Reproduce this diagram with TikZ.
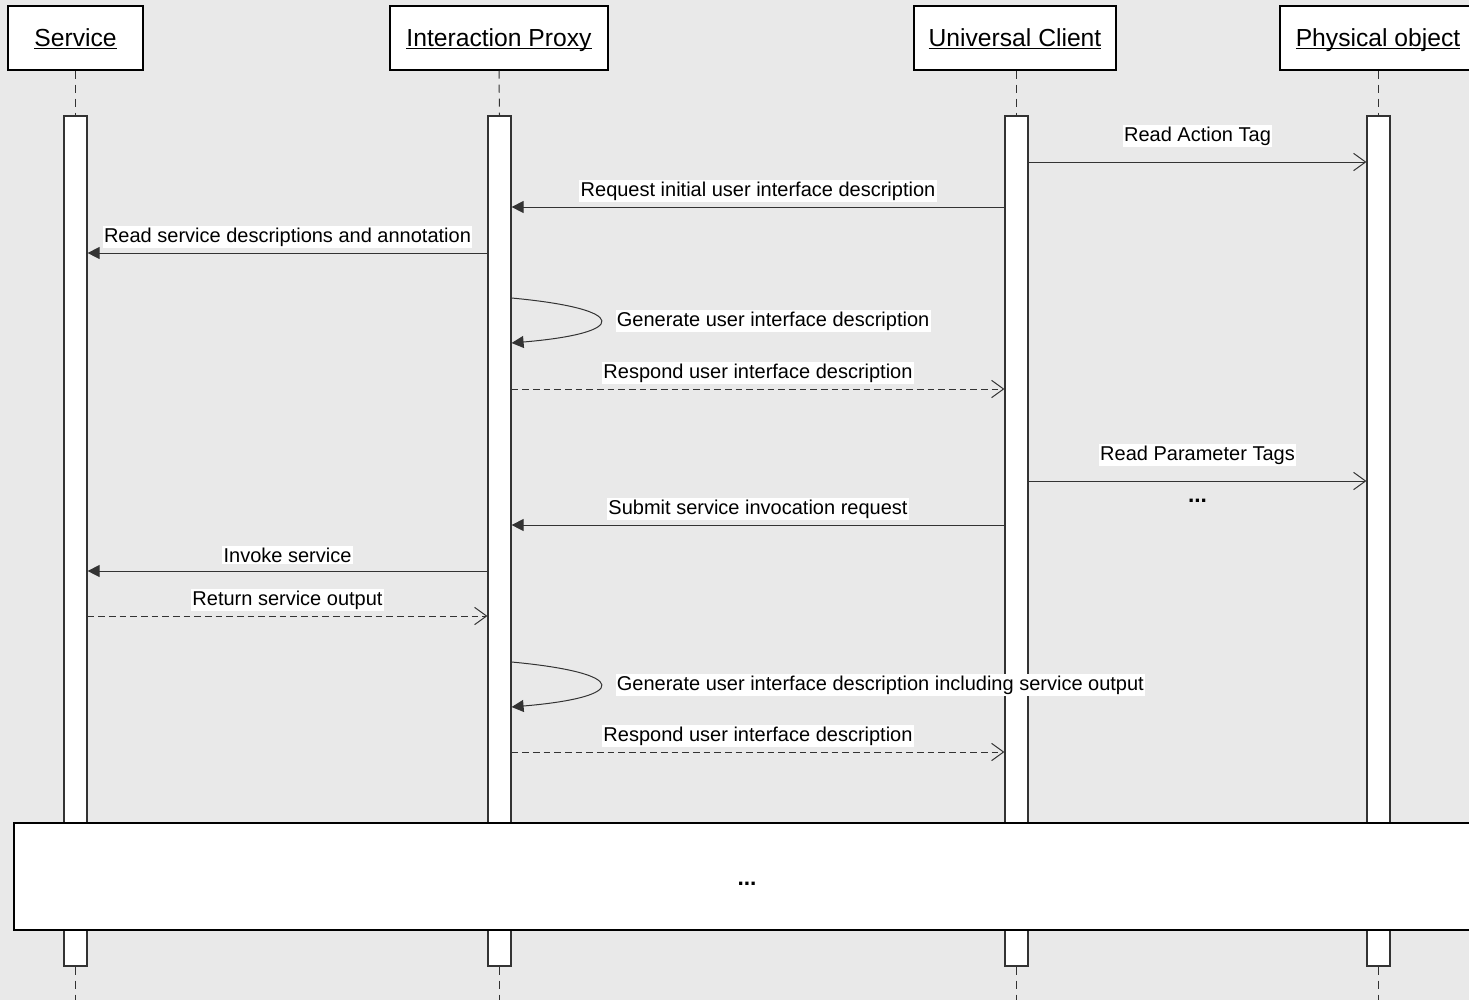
\documentclass[tikz,border=0pt]{standalone}
\usepackage{fontspec}
\setmainfont{Liberation Sans}
\usetikzlibrary{arrows.meta,calc,positioning}

\definecolor{canvas}{HTML}{E9E9E9}
\definecolor{ink}{HTML}{333333}

\newcommand{\headname}[1]{\underline{\smash{#1}}}

\tikzset{
  head/.style={rectangle,draw=black,fill=white,line width=0.9pt,minimum height=48pt,inner sep=0pt,text height=14pt,text depth=2pt,font=\fontsize{18.5}{20}\selectfont},
  bar/.style={rectangle,draw=ink,fill=white,line width=0.9pt,minimum width=17.25pt,minimum height=637.5pt,inner sep=0pt},
  life/.style={draw=ink,line width=0.75pt,dash pattern=on 6pt off 4.5pt},
  call/.style={draw=ink,line width=0.75pt,-{Triangle[length=9pt,width=9pt]}},
  send/.style={draw=ink,line width=0.75pt,-{Straight Barb[length=9pt,width=13pt]}},
  reply/.style={send,dash pattern=on 5pt off 3pt},
  lbl/.style={fill=white,inner xsep=1pt,inner ysep=1.5pt,font=\fontsize{15}{17}\selectfont},
  dots/.style={font=\fontsize{17}{19}\selectfont\bfseries},
}

\begin{document}
\begin{tikzpicture}[x=0.75pt,y=-0.75pt]

    \fill[canvas] (0,0) rectangle (1469,1000);
    \useasboundingbox (0,0) rectangle (1469,1000);

    \coordinate (bottom) at (0,1000);

    % lifelines
    \node [bar] (svcbar) at (75.5,541) {};
    \node [bar] (ipbar)  at (499.5,541) {};
    \node [bar] (ucbar)  at (1016.5,541) {};
    \node [bar] (pobar)  at (1378.5,541) {};

    \node [head,minimum width=101.25pt] (svc) at (75.5,38) {\headname{Service}};
    \node [head,minimum width=163.5pt] (ip) at (499,38) {\headname{Interaction Proxy}};
    \node [head,minimum width=151.5pt] (uc) at (1015,38) {\headname{Universal Client}};
    \node [head,minimum width=147pt] (po) at (1378,38) {\headname{Physical object}};

    \draw[life] (svc.south) -- (svcbar.north);
    \draw[life] (ip.south) -- (ipbar.north);
    \draw[life] (ucbar.north |- uc.south) -- (ucbar.north);
    \draw[life] (pobar.north |- po.south) -- (pobar.north);

    \draw[life] (svcbar.south) -- (svcbar.south |- bottom);
    \draw[life] (ipbar.south) -- (ipbar.south |- bottom);
    \draw[life] (ucbar.south) -- (ucbar.south |- bottom);
    \draw[life] (pobar.south) -- (pobar.south |- bottom);

    % message rows
    \coordinate (r1) at (0,162);
    \coordinate (r2) at (0,207);
    \coordinate (r3) at (0,253);
    \coordinate (g1a) at (0,298);
    \coordinate (g1b) at (0,343);
    \coordinate (r4) at (0,389);
    \coordinate (r5) at (0,481);
    \coordinate (r6) at (0,525);
    \coordinate (r7) at (0,571);
    \coordinate (r8) at (0,616);
    \coordinate (g2a) at (0,662);
    \coordinate (g2b) at (0,707);
    \coordinate (r9) at (0,752);

    \draw[send] (ucbar.east |- r1) -- node[lbl,yshift=19.5pt] (m1) {Read Action Tag} (pobar.west |- r1);
    \draw[call] (ucbar.west |- r2) -- node[lbl,yshift=12pt] (m2) {Request initial user interface description} (ipbar.east |- r2);
    \draw[call] (ipbar.west |- r3) -- node[lbl,yshift=12pt] (m3) {Read service descriptions and annotation} (svcbar.east |- r3);
    \draw[call] (ipbar.east |- g1a) .. controls (630,309) and (630,333) .. node[lbl,anchor=west,xshift=11pt] (m4) {Generate user interface description} (ipbar.east |- g1b);
    \draw[reply] (ipbar.east |- r4) -- node[lbl,yshift=12pt] (m5) {Respond user interface description} (ucbar.west |- r4);
    \draw[send] (ucbar.east |- r5) -- node[lbl,yshift=19.5pt] (m6) {Read Parameter Tags} node[dots,yshift=-15pt] (dots1) {...} (pobar.west |- r5);
    \draw[call] (ucbar.west |- r6) -- node[lbl,yshift=12pt] (m7) {Submit service invocation request} (ipbar.east |- r6);
    \draw[call] (ipbar.west |- r7) -- node[lbl,yshift=12pt] (m8) {Invoke service} (svcbar.east |- r7);
    \draw[reply] (svcbar.east |- r8) -- node[lbl,yshift=12pt] (m9) {Return service output} (ipbar.west |- r8);
    \draw[call] (ipbar.east |- g2a) .. controls (630,673) and (630,697) .. node[lbl,anchor=west,xshift=11pt] (m10) {Generate user interface description including service output} (ipbar.east |- g2b);
    \draw[reply] (ipbar.east |- r9) -- node[lbl,yshift=12pt] (m11) {Respond user interface description} (ucbar.west |- r9);

    \node [rectangle,draw=black,fill=white,line width=0.9pt,minimum width=1099.5pt,minimum height=80.25pt,inner sep=0pt] (more) at (747,876.5) {};
    \node [dots] (moredots) at (747,884) {...};
\end{tikzpicture}
\end{document}
